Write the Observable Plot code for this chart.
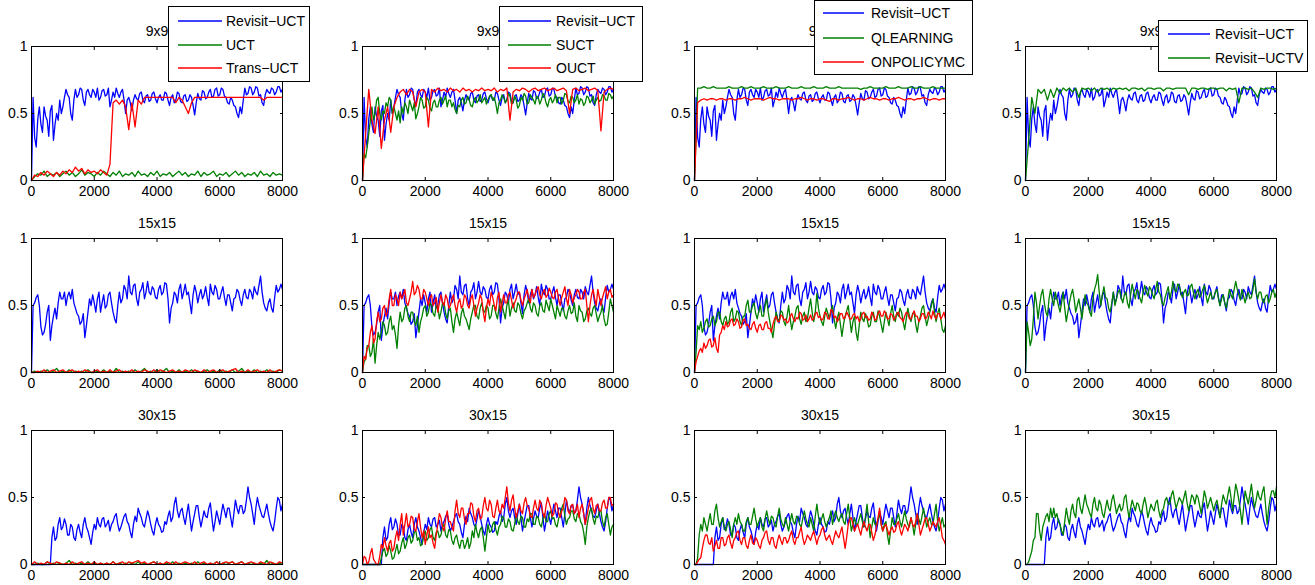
<!DOCTYPE html>
<html>
<head>
<meta charset="utf-8">
<script src="https://cdn.jsdelivr.net/npm/d3@7"></script>
<script src="https://cdn.jsdelivr.net/npm/@observablehq/plot@0.6"></script>
<style>
body{margin:0;background:#fff;}
#root{position:relative;width:1315px;height:585px;overflow:hidden;background:#fff;font-family:"Liberation Sans",Arial,sans-serif;}
#root > svg{position:absolute;}
</style>
</head>
<body>
<div id="root"></div>
<script>
// ---------- data: episodes 0..8000, evenly sampled (step = 8000/(n-1)) ----------
const xTicks = [0, 2000, 4000, 6000, 8000];
const yTicks = [0, 0.5, 1];
const rowTitles = ["9x9", "15x15", "30x15"];

// ===== 9x9 =====
const revisit9 = [
0,0.62,0.32,0.25,0.46,0.55,0.42,0.36,0.55,0.48,0.45,0.33,0.52,0.56,0.3,0.42,0.5,0.45,0.6,0.5,
0.55,0.62,0.68,0.64,0.62,0.5,0.45,0.6,0.68,0.62,0.64,0.69,0.68,0.6,0.56,0.66,0.68,0.64,0.62,0.68,
0.66,0.62,0.69,0.6,0.62,0.67,0.68,0.63,0.64,0.69,0.55,0.6,0.66,0.62,0.69,0.65,0.62,0.66,0.68,0.6,
0.5,0.6,0.62,0.58,0.52,0.6,0.64,0.61,0.6,0.65,0.66,0.6,0.58,0.63,0.64,0.59,0.6,0.65,0.66,0.61,
0.58,0.62,0.64,0.6,0.6,0.66,0.65,0.6,0.56,0.62,0.64,0.58,0.6,0.66,0.65,0.59,0.58,0.63,0.64,0.59,
0.6,0.64,0.62,0.56,0.49,0.58,0.65,0.61,0.6,0.67,0.66,0.61,0.62,0.66,0.68,0.62,0.63,0.68,0.69,0.63,
0.64,0.69,0.68,0.63,0.62,0.58,0.57,0.62,0.6,0.56,0.55,0.5,0.47,0.55,0.5,0.6,0.69,0.64,0.65,0.7,
0.69,0.64,0.66,0.7,0.69,0.63,0.64,0.58,0.56,0.64,0.68,0.66,0.65,0.69,0.68,0.64,0.66,0.7,0.7,0.66,
0.68];
const uct9 = [0,0.03,0.05,0.04,0.07,0.03,0.05,0.04,0.06,0.03,
0.05,0.07,0.04,0.06,0.03,0.05,0.08,0.04,0.06,0.05,
0.03,0.06,0.04,0.07,0.05,0.03,0.06,0.04,0.07,0.03,
0.05,0.04,0.06,0.03,0.07,0.04,0.05,0.03,0.06,0.04,
0.07,0.03,0.05,0.04,0.06,0.03,0.05,0.07,0.04,0.06,
0.03,0.05,0.04,0.07,0.03,0.06,0.04,0.05,0.07,0.03,
0.05,0.04,0.06,0.03,0.05,0.07,0.04,0.06,0.03,0.05,
0.04,0.06,0.03,0.07,0.04,0.05,0.03,0.06,0.04,0.05,
0.04];
const trans9 = [0,0.04,0.03,0.06,0.04,0.07,0.05,0.03,0.06,0.04,
0.07,0.05,0.08,0.06,0.1,0.07,0.09,0.05,0.08,0.06,
0.07,0.05,0.08,0.06,0.04,0.12,0.58,0.6,0.57,0.6,
0.55,0.38,0.58,0.4,0.6,0.57,0.62,0.62,0.62,0.62,
0.62,0.62,0.62,0.62,0.62,0.62,0.58,0.62,0.6,0.55,
0.5,0.58,0.62,0.62,0.62,0.62,0.62,0.62,0.62,0.62,
0.62,0.62,0.62,0.62,0.62,0.62,0.62,0.62,0.62,0.62,
0.62,0.62,0.62,0.62,0.6,0.62,0.62,0.62,0.62,0.62,
0.62];
const suct9 = [
0,0.2,0.17,0.25,0.35,0.45,0.55,0.45,0.5,0.6,0.62,0.5,0.45,0.52,0.5,0.58,0.55,0.62,0.6,0.5,
0.55,0.5,0.45,0.52,0.43,0.55,0.5,0.58,0.55,0.5,0.6,0.56,0.52,0.58,0.46,0.5,0.55,0.62,0.6,0.54,
0.55,0.62,0.6,0.54,0.52,0.58,0.6,0.55,0.55,0.6,0.62,0.57,0.6,0.63,0.55,0.6,0.6,0.55,0.58,0.53,
0.5,0.56,0.55,0.6,0.62,0.57,0.58,0.63,0.6,0.56,0.55,0.6,0.62,0.58,0.6,0.64,0.58,0.6,0.62,0.57,
0.6,0.63,0.64,0.6,0.62,0.57,0.5,0.58,0.6,0.64,0.62,0.58,0.6,0.65,0.63,0.57,0.58,0.63,0.6,0.54,
0.56,0.62,0.6,0.65,0.63,0.57,0.58,0.64,0.62,0.6,0.57,0.63,0.62,0.57,0.6,0.65,0.63,0.58,0.55,0.6,
0.62,0.58,0.6,0.64,0.58,0.62,0.62,0.57,0.6,0.65,0.64,0.59,0.58,0.63,0.62,0.58,0.6,0.64,0.57,0.61,
0.6,0.56,0.58,0.63,0.62,0.58,0.6,0.63,0.57,0.6,0.62,0.59,0.6,0.64,0.63,0.6,0.6,0.65,0.64,0.61,
0.63];
const ouct9 = [0,0.35,0.68,0.45,0.35,0.55,0.24,0.45,0.55,0.36,
0.55,0.62,0.66,0.68,0.64,0.68,0.66,0.55,0.66,0.68,
0.66,0.4,0.68,0.66,0.69,0.67,0.68,0.66,0.69,0.67,
0.68,0.66,0.69,0.67,0.68,0.66,0.68,0.67,0.69,0.67,
0.68,0.67,0.69,0.66,0.68,0.67,0.69,0.45,0.66,0.68,
0.67,0.69,0.68,0.66,0.68,0.69,0.67,0.68,0.69,0.67,
0.68,0.69,0.67,0.68,0.69,0.67,0.5,0.68,0.69,0.67,
0.68,0.69,0.67,0.68,0.69,0.67,0.37,0.66,0.68,0.69,
0.68];
const qlearn9 = [0,0.69,0.69,0.7,0.69,0.69,0.7,0.69,0.69,0.69,
0.69,0.7,0.69,0.69,0.69,0.7,0.69,0.69,0.7,0.69,
0.69,0.69,0.7,0.69,0.69,0.69,0.7,0.69,0.69,0.69,
0.7,0.69,0.69,0.69,0.7,0.69,0.69,0.69,0.7,0.69,
0.69,0.69,0.7,0.69,0.69,0.69,0.7,0.69,0.69,0.69,
0.69,0.69,0.69,0.68,0.69,0.69,0.7,0.69,0.69,0.69,
0.69,0.7,0.69,0.69,0.69,0.7,0.69,0.69,0.69,0.7,
0.69,0.69,0.7,0.69,0.69,0.69,0.7,0.69,0.69,0.69,
0.69];
const onpolicy9 = [0,0.58,0.6,0.61,0.6,0.61,0.61,0.6,0.61,0.61,
0.6,0.61,0.61,0.6,0.61,0.61,0.62,0.61,0.6,0.61,
0.61,0.61,0.6,0.61,0.62,0.61,0.61,0.6,0.61,0.61,
0.61,0.6,0.61,0.61,0.62,0.61,0.6,0.61,0.61,0.6,
0.61,0.61,0.6,0.59,0.61,0.61,0.6,0.61,0.61,0.62,
0.61,0.6,0.61,0.61,0.6,0.61,0.62,0.61,0.61,0.6,
0.61,0.61,0.6,0.61,0.61,0.62,0.61,0.6,0.61,0.61,
0.6,0.61,0.61,0.62,0.61,0.6,0.61,0.61,0.6,0.61,
0.61];
const uctv9 = [0,0.3,0.62,0.5,0.68,0.65,0.68,0.6,0.68,0.62,
0.69,0.65,0.69,0.67,0.69,0.66,0.69,0.62,0.69,0.68,
0.69,0.67,0.69,0.66,0.69,0.68,0.69,0.67,0.69,0.68,
0.69,0.68,0.69,0.67,0.69,0.69,0.68,0.69,0.67,0.69,
0.69,0.68,0.69,0.69,0.67,0.69,0.69,0.68,0.69,0.69,
0.69,0.69,0.64,0.69,0.69,0.68,0.69,0.69,0.68,0.69,
0.69,0.68,0.69,0.69,0.67,0.69,0.68,0.69,0.58,0.69,
0.69,0.68,0.69,0.66,0.62,0.69,0.68,0.69,0.69,0.68,
0.69];

// ===== 15x15 =====
const revisit15 = [
0,0.5,0.52,0.56,0.58,0.5,0.34,0.28,0.3,0.36,0.45,0.5,0.24,0.35,0.42,0.48,0.4,0.52,0.6,0.55,
0.55,0.6,0.5,0.57,0.6,0.55,0.62,0.52,0.48,0.44,0.42,0.36,0.38,0.44,0.26,0.35,0.45,0.55,0.5,0.58,
0.52,0.45,0.55,0.6,0.45,0.52,0.58,0.48,0.5,0.58,0.6,0.52,0.45,0.4,0.37,0.5,0.6,0.52,0.55,0.65,
0.62,0.55,0.72,0.6,0.58,0.65,0.66,0.55,0.5,0.6,0.62,0.67,0.55,0.6,0.68,0.6,0.58,0.64,0.62,0.56,
0.55,0.62,0.65,0.58,0.6,0.67,0.66,0.55,0.37,0.48,0.52,0.6,0.58,0.52,0.62,0.66,0.55,0.6,0.66,0.58,
0.6,0.52,0.44,0.58,0.65,0.6,0.52,0.58,0.62,0.55,0.58,0.64,0.56,0.5,0.66,0.6,0.58,0.65,0.62,0.55,
0.55,0.6,0.64,0.56,0.5,0.58,0.58,0.52,0.46,0.55,0.56,0.62,0.6,0.54,0.5,0.58,0.62,0.56,0.55,0.62,
0.6,0.55,0.64,0.6,0.58,0.65,0.72,0.6,0.52,0.48,0.46,0.52,0.55,0.48,0.45,0.56,0.65,0.6,0.62,0.66,
0.62];
const uct15 = [0,0.01,0,0.01,0,0.02,0,0.01,0.03,0,
0.01,0,0.02,0,0.01,0,0.01,0,0.02,0,
0,0.01,0,0.02,0,0.01,0,0.03,0,0.01,
0,0.01,0,0.02,0,0.01,0.03,0,0.01,0,
0.02,0,0.01,0.03,0,0.01,0,0.02,0,0.01,
0,0.02,0,0.01,0,0.01,0.02,0,0.01,0,
0.02,0,0.01,0,0.02,0,0.01,0.03,0,0.01,
0,0.02,0,0.01,0,0.02,0,0.01,0,0.02,
0.01];
const trans15 = [0,0,0.01,0,0.02,0,0.01,0.02,0,0.01,
0.02,0,0.01,0.02,0,0.01,0,0.02,0.01,0,
0.01,0.02,0,0.01,0,0.02,0,0.01,0.02,0,
0.01,0,0.02,0,0.01,0,0.02,0.01,0,0.02,
0,0.02,0.01,0,0.01,0.02,0,0.01,0,0.02,
0.01,0,0.02,0.01,0,0.02,0,0.01,0.02,0,
0.01,0.02,0,0.01,0.02,0.03,0,0.01,0,0.02,
0,0.01,0.02,0,0.01,0,0.02,0,0.01,0.02,
0.01];
const suct15 = [
0,0.08,0.1,0.2,0.2,0.12,0.15,0.25,0.07,0.2,0.3,0.25,0.3,0.38,0.35,0.28,0.3,0.38,0.42,0.32,
0.35,0.28,0.18,0.35,0.45,0.38,0.4,0.48,0.5,0.42,0.38,0.45,0.45,0.38,0.35,0.42,0.3,0.38,0.42,0.48,
0.5,0.42,0.45,0.52,0.5,0.44,0.42,0.5,0.5,0.4,0.45,0.52,0.52,0.44,0.4,0.46,0.48,0.38,0.3,0.4,
0.45,0.4,0.35,0.44,0.48,0.42,0.4,0.36,0.32,0.4,0.45,0.5,0.5,0.42,0.4,0.48,0.52,0.46,0.45,0.5,
0.48,0.4,0.42,0.5,0.5,0.44,0.4,0.48,0.55,0.5,0.45,0.4,0.5,0.54,0.42,0.48,0.52,0.46,0.45,0.52,
0.5,0.44,0.4,0.46,0.48,0.52,0.55,0.48,0.45,0.52,0.5,0.44,0.42,0.5,0.52,0.46,0.45,0.54,0.5,0.46,
0.55,0.5,0.45,0.4,0.5,0.46,0.42,0.48,0.48,0.42,0.4,0.46,0.5,0.44,0.45,0.52,0.42,0.38,0.5,0.46,
0.45,0.38,0.4,0.46,0.48,0.44,0.42,0.48,0.5,0.44,0.38,0.42,0.45,0.5,0.4,0.35,0.36,0.45,0.55,0.5,
0.45];
const ouct15 = [
0,0.12,0.1,0.18,0.2,0.3,0.35,0.22,0.25,0.38,0.45,0.38,0.4,0.48,0.5,0.42,0.45,0.55,0.62,0.5,
0.5,0.58,0.55,0.5,0.6,0.55,0.58,0.62,0.52,0.5,0.55,0.6,0.68,0.58,0.6,0.65,0.62,0.55,0.55,0.62,
0.6,0.55,0.5,0.56,0.58,0.5,0.52,0.56,0.45,0.52,0.58,0.52,0.5,0.58,0.55,0.48,0.5,0.55,0.58,0.5,
0.45,0.52,0.55,0.48,0.5,0.58,0.56,0.5,0.48,0.55,0.58,0.5,0.42,0.48,0.52,0.58,0.55,0.45,0.38,0.48,
0.55,0.5,0.6,0.56,0.5,0.46,0.56,0.6,0.45,0.52,0.58,0.52,0.52,0.58,0.6,0.54,0.48,0.52,0.55,0.6,
0.6,0.54,0.5,0.55,0.58,0.62,0.55,0.52,0.62,0.56,0.58,0.62,0.64,0.58,0.55,0.6,0.62,0.56,0.58,0.63,
0.6,0.56,0.55,0.6,0.62,0.55,0.5,0.56,0.6,0.64,0.55,0.5,0.62,0.58,0.52,0.56,0.58,0.62,0.6,0.55,
0.55,0.6,0.62,0.5,0.38,0.5,0.58,0.62,0.55,0.5,0.62,0.56,0.5,0.56,0.6,0.64,0.55,0.6,0.62,0.56,
0.58];
const qlearn15 = [
0,0.15,0.35,0.32,0.38,0.3,0.33,0.38,0.4,0.34,0.35,0.4,0.42,0.35,0.38,0.45,0.45,0.38,0.35,0.4,
0.42,0.36,0.38,0.45,0.48,0.38,0.4,0.46,0.45,0.38,0.35,0.42,0.42,0.5,0.54,0.45,0.45,0.5,0.52,0.44,
0.4,0.46,0.5,0.42,0.42,0.5,0.55,0.45,0.38,0.32,0.26,0.36,0.45,0.4,0.38,0.46,0.45,0.38,0.35,0.42,
0.5,0.4,0.32,0.38,0.42,0.48,0.5,0.4,0.36,0.42,0.45,0.38,0.4,0.48,0.55,0.45,0.38,0.45,0.59,0.48,
0.42,0.38,0.35,0.42,0.48,0.44,0.4,0.46,0.5,0.4,0.33,0.4,0.45,0.36,0.27,0.36,0.42,0.46,0.5,0.4,
0.3,0.38,0.42,0.3,0.24,0.35,0.45,0.4,0.38,0.44,0.4,0.34,0.35,0.42,0.45,0.38,0.38,0.46,0.42,0.36,
0.3,0.38,0.45,0.4,0.35,0.44,0.5,0.42,0.38,0.45,0.42,0.48,0.45,0.38,0.32,0.4,0.48,0.42,0.38,0.44,
0.45,0.36,0.3,0.38,0.42,0.48,0.5,0.42,0.35,0.4,0.45,0.5,0.55,0.45,0.38,0.44,0.48,0.4,0.32,0.3,
0.35];
const onpolicy15 = [
0,0.08,0.12,0.16,0.18,0.15,0.22,0.18,0.2,0.24,0.25,0.19,0.2,0.26,0.18,0.15,0.28,0.3,0.35,0.32,
0.38,0.34,0.35,0.39,0.4,0.35,0.36,0.4,0.38,0.33,0.34,0.39,0.4,0.35,0.36,0.33,0.32,0.36,0.38,0.33,
0.3,0.35,0.36,0.32,0.32,0.37,0.38,0.33,0.33,0.3,0.36,0.4,0.42,0.38,0.38,0.43,0.42,0.39,0.4,0.37,
0.38,0.42,0.44,0.4,0.38,0.41,0.4,0.45,0.44,0.39,0.4,0.43,0.38,0.4,0.43,0.39,0.4,0.44,0.45,0.41,
0.42,0.39,0.4,0.45,0.44,0.4,0.4,0.47,0.46,0.41,0.42,0.38,0.4,0.44,0.44,0.4,0.41,0.45,0.43,0.4,
0.4,0.43,0.44,0.4,0.42,0.38,0.4,0.44,0.45,0.41,0.42,0.39,0.4,0.45,0.43,0.39,0.4,0.44,0.46,0.42,
0.42,0.46,0.44,0.4,0.4,0.44,0.43,0.39,0.41,0.44,0.45,0.41,0.4,0.38,0.42,0.45,0.44,0.4,0.4,0.43,
0.46,0.42,0.42,0.38,0.4,0.44,0.44,0.4,0.41,0.45,0.43,0.4,0.46,0.42,0.4,0.44,0.44,0.4,0.42,0.45,
0.4];
const uctv15 = [
0,0.38,0.3,0.2,0.25,0.4,0.6,0.52,0.4,0.5,0.58,0.62,0.52,0.45,0.42,0.55,0.62,0.55,0.5,0.6,
0.55,0.5,0.45,0.52,0.6,0.48,0.38,0.45,0.52,0.58,0.62,0.55,0.45,0.5,0.55,0.48,0.4,0.5,0.58,0.52,
0.5,0.45,0.42,0.55,0.62,0.66,0.73,0.6,0.5,0.58,0.64,0.56,0.55,0.48,0.45,0.52,0.6,0.5,0.55,0.6,
0.62,0.56,0.52,0.58,0.6,0.52,0.48,0.58,0.66,0.6,0.55,0.62,0.6,0.55,0.52,0.6,0.65,0.6,0.57,0.64,
0.62,0.58,0.55,0.62,0.68,0.6,0.58,0.52,0.5,0.56,0.6,0.64,0.55,0.6,0.68,0.62,0.6,0.66,0.65,0.6,
0.56,0.6,0.62,0.57,0.58,0.64,0.66,0.6,0.55,0.6,0.62,0.56,0.58,0.62,0.65,0.58,0.52,0.56,0.6,0.55,
0.56,0.6,0.62,0.55,0.5,0.55,0.58,0.52,0.48,0.55,0.62,0.58,0.55,0.62,0.68,0.62,0.58,0.54,0.62,0.57,
0.52,0.57,0.6,0.55,0.56,0.62,0.7,0.6,0.55,0.6,0.6,0.54,0.52,0.57,0.58,0.52,0.55,0.6,0.62,0.56,
0.6];

// ===== 30x15 =====
const revisit30 = [
0,0,0,0,0,0,0,0,0,0,0,0,0,0.2,0.28,0.18,0.2,0.3,0.35,0.26,
0.28,0.34,0.3,0.22,0.22,0.3,0.28,0.2,0.18,0.26,0.3,0.24,0.2,0.3,0.35,0.28,0.25,0.2,0.15,0.24,
0.3,0.26,0.35,0.3,0.28,0.34,0.35,0.28,0.3,0.33,0.25,0.3,0.32,0.36,0.38,0.3,0.25,0.28,0.32,0.36,
0.38,0.32,0.3,0.24,0.2,0.3,0.36,0.32,0.42,0.38,0.35,0.3,0.28,0.34,0.4,0.36,0.3,0.25,0.22,0.3,
0.35,0.3,0.28,0.24,0.25,0.32,0.3,0.36,0.4,0.32,0.35,0.45,0.5,0.4,0.35,0.4,0.42,0.35,0.3,0.38,
0.45,0.35,0.25,0.32,0.38,0.44,0.44,0.35,0.28,0.34,0.4,0.36,0.35,0.42,0.46,0.35,0.25,0.32,0.4,0.35,
0.3,0.38,0.45,0.4,0.35,0.42,0.42,0.35,0.28,0.38,0.48,0.42,0.38,0.44,0.44,0.38,0.4,0.48,0.58,0.5,
0.45,0.38,0.3,0.42,0.5,0.44,0.4,0.36,0.35,0.4,0.45,0.38,0.32,0.28,0.25,0.32,0.42,0.5,0.48,0.4,
0.45];
const uct30 = [0,0,0.01,0,0,0.02,0,0.01,0,0.01,
0,0.01,0.03,0,0.01,0,0.01,0,0.02,0,
0.01,0,0.01,0,0.01,0,0.02,0,0.01,0,
0.01,0,0.01,0,0.02,0,0.01,0,0.01,0.02,
0,0.01,0,0.01,0,0.02,0,0.01,0,0.01,
0,0.01,0,0.02,0,0.01,0,0.01,0,0.02,
0,0.01,0,0.01,0.02,0,0.01,0.02,0,0.01,
0,0.01,0,0.01,0,0.03,0,0.01,0,0.01,
0];
const trans30 = [0,0.02,0,0.01,0,0.02,0.01,0,0.02,0.01,
0,0.01,0,0.02,0,0.01,0.02,0,0.01,0,
0.02,0,0.01,0,0.01,0,0.02,0,0.01,0.02,
0,0.02,0.01,0.02,0.03,0.01,0.02,0,0.01,0.02,
0,0.01,0,0.02,0.01,0,0.02,0,0.01,0.02,
0.01,0,0.02,0,0.01,0.02,0,0.01,0,0.02,
0,0.01,0.02,0.01,0.02,0,0.01,0.02,0,0.01,
0.02,0.01,0,0.02,0.01,0,0.02,0.01,0,0.02,
0.01];
const suct30 = [
0,0,0,0,0,0,0,0,0,0,0,0,0.05,0.1,0.12,0.06,0.08,0.14,0.1,0.04,
0.05,0.1,0.15,0.08,0.1,0.16,0.2,0.12,0.15,0.2,0.22,0.16,0.18,0.24,0.25,0.18,0.2,0.14,0.15,0.22,
0.25,0.18,0.2,0.26,0.28,0.2,0.18,0.24,0.25,0.2,0.22,0.28,0.3,0.22,0.2,0.26,0.25,0.18,0.15,0.2,
0.22,0.16,0.12,0.18,0.18,0.12,0.15,0.2,0.12,0.16,0.25,0.2,0.3,0.24,0.2,0.26,0.28,0.2,0.1,0.2,
0.3,0.24,0.25,0.3,0.32,0.26,0.22,0.28,0.3,0.36,0.35,0.28,0.28,0.34,0.32,0.26,0.25,0.3,0.38,0.32,
0.3,0.36,0.35,0.28,0.28,0.34,0.32,0.38,0.38,0.3,0.3,0.36,0.35,0.3,0.28,0.34,0.38,0.32,0.32,0.38,
0.4,0.34,0.35,0.3,0.28,0.34,0.38,0.42,0.45,0.36,0.3,0.34,0.35,0.4,0.4,0.34,0.32,0.38,0.38,0.32,
0.3,0.24,0.15,0.28,0.35,0.4,0.42,0.34,0.3,0.36,0.35,0.4,0.4,0.32,0.28,0.35,0.38,0.3,0.22,0.28,
0.3];
const ouct30 = [
0,0.06,0.05,0,0.02,0.08,0.12,0.04,0.02,0,0,0.06,0.15,0.12,0.2,0.14,0.1,0.16,0.18,0.1,
0.12,0.2,0.25,0.18,0.3,0.38,0.22,0.3,0.38,0.28,0.3,0.36,0.35,0.26,0.25,0.32,0.38,0.28,0.2,0.25,
0.15,0.22,0.28,0.2,0.22,0.16,0.12,0.22,0.3,0.38,0.35,0.28,0.25,0.34,0.4,0.32,0.32,0.28,0.25,0.4,
0.48,0.38,0.35,0.42,0.42,0.34,0.3,0.38,0.38,0.46,0.45,0.36,0.32,0.4,0.42,0.34,0.35,0.44,0.5,0.42,
0.4,0.48,0.45,0.36,0.35,0.42,0.48,0.4,0.38,0.45,0.42,0.5,0.58,0.46,0.4,0.48,0.52,0.42,0.35,0.4,
0.45,0.4,0.38,0.46,0.5,0.44,0.42,0.36,0.35,0.42,0.48,0.42,0.4,0.48,0.45,0.38,0.35,0.44,0.5,0.46,
0.42,0.36,0.38,0.46,0.45,0.38,0.35,0.4,0.42,0.5,0.48,0.4,0.38,0.44,0.45,0.38,0.4,0.45,0.35,0.42,
0.45,0.38,0.3,0.36,0.42,0.48,0.5,0.42,0.38,0.44,0.45,0.4,0.4,0.46,0.48,0.42,0.42,0.5,0.5,0.44,
0.45];
const qlearn30 = [
0,0,0.05,0.22,0.3,0.25,0.35,0.3,0.25,0.32,0.38,0.3,0.3,0.4,0.45,0.35,0.28,0.32,0.35,0.28,
0.25,0.3,0.32,0.26,0.2,0.3,0.35,0.3,0.38,0.32,0.3,0.25,0.25,0.32,0.35,0.3,0.3,0.36,0.42,0.34,
0.28,0.32,0.35,0.28,0.25,0.34,0.4,0.34,0.3,0.36,0.35,0.3,0.28,0.36,0.42,0.34,0.3,0.28,0.35,0.3,
0.25,0.32,0.38,0.32,0.3,0.36,0.35,0.3,0.28,0.34,0.4,0.34,0.3,0.28,0.35,0.3,0.25,0.36,0.45,0.36,
0.3,0.34,0.38,0.32,0.28,0.32,0.35,0.4,0.3,0.36,0.4,0.35,0.32,0.36,0.38,0.32,0.3,0.38,0.45,0.35,
0.25,0.3,0.35,0.3,0.3,0.34,0.38,0.32,0.28,0.36,0.45,0.32,0.2,0.28,0.35,0.3,0.3,0.34,0.38,0.3,
0.25,0.3,0.32,0.22,0.15,0.25,0.35,0.3,0.3,0.34,0.38,0.32,0.28,0.34,0.4,0.34,0.3,0.28,0.35,0.3,
0.22,0.3,0.38,0.34,0.3,0.36,0.42,0.35,0.28,0.32,0.35,0.3,0.3,0.38,0.45,0.32,0.25,0.3,0.35,0.28,
0.3];
const onpolicy30 = [
0,0,0.02,0.04,0.05,0.12,0.18,0.22,0.22,0.16,0.15,0.2,0.1,0.14,0.18,0.12,0.12,0.2,0.2,0.14,
0.15,0.2,0.22,0.16,0.12,0.18,0.2,0.24,0.25,0.18,0.15,0.2,0.2,0.14,0.12,0.18,0.22,0.16,0.15,0.2,
0.18,0.14,0.12,0.18,0.2,0.24,0.25,0.18,0.15,0.2,0.2,0.14,0.12,0.18,0.22,0.18,0.15,0.2,0.2,0.16,
0.18,0.22,0.25,0.18,0.15,0.2,0.2,0.24,0.28,0.2,0.15,0.18,0.22,0.2,0.18,0.22,0.25,0.2,0.15,0.2,
0.22,0.26,0.28,0.22,0.18,0.2,0.22,0.18,0.15,0.2,0.25,0.22,0.2,0.24,0.28,0.2,0.12,0.2,0.3,0.34,
0.35,0.3,0.25,0.28,0.3,0.26,0.22,0.28,0.32,0.28,0.25,0.3,0.3,0.24,0.18,0.22,0.28,0.35,0.42,0.3,
0.25,0.28,0.3,0.26,0.22,0.26,0.28,0.24,0.25,0.3,0.32,0.26,0.22,0.26,0.3,0.28,0.25,0.3,0.35,0.3,
0.28,0.32,0.38,0.3,0.22,0.26,0.3,0.34,0.35,0.3,0.25,0.28,0.32,0.3,0.28,0.32,0.35,0.28,0.2,0.18,
0.15];
const uctv30 = [
0,0,0.02,0.06,0.1,0.18,0.2,0.38,0.38,0.25,0.18,0.28,0.32,0.36,0.38,0.32,0.42,0.35,0.42,0.35,
0.38,0.32,0.3,0.25,0.22,0.32,0.42,0.35,0.3,0.4,0.45,0.38,0.35,0.48,0.5,0.42,0.38,0.45,0.52,0.45,
0.42,0.38,0.35,0.45,0.5,0.42,0.4,0.48,0.45,0.38,0.35,0.42,0.48,0.42,0.4,0.48,0.52,0.45,0.38,0.42,
0.45,0.4,0.42,0.5,0.52,0.42,0.35,0.42,0.48,0.44,0.4,0.46,0.45,0.4,0.38,0.45,0.5,0.44,0.35,0.4,
0.45,0.42,0.4,0.46,0.48,0.4,0.35,0.4,0.42,0.48,0.5,0.45,0.45,0.52,0.55,0.48,0.42,0.46,0.5,0.48,
0.45,0.5,0.55,0.46,0.4,0.46,0.52,0.5,0.45,0.52,0.5,0.44,0.38,0.46,0.55,0.5,0.42,0.46,0.5,0.45,
0.4,0.45,0.48,0.42,0.35,0.45,0.52,0.48,0.45,0.52,0.58,0.5,0.4,0.5,0.6,0.55,0.48,0.4,0.3,0.42,
0.55,0.5,0.45,0.52,0.6,0.5,0.42,0.48,0.55,0.5,0.48,0.54,0.58,0.45,0.3,0.42,0.5,0.55,0.55,0.5,
0.58];

// ---------- layout ----------
const BLUE = "#0000ff", GREEN = "#008000", RED = "#ff0000";
const FONT = "'Liberation Sans', Arial, Helvetica, sans-serif";
const colLeft = [31, 362, 694, 1025];
const rowTop = [46, 238, 430];
const FW = 251, FH = 134, ML = 31, MT = 46, MR = 30, MB = 24;

const rowsData = [
  {revisit: revisit9, extra: [[uct9, trans9], [suct9, ouct9], [qlearn9, onpolicy9], [uctv9]]},
  {revisit: revisit15, extra: [[uct15, trans15], [suct15, ouct15], [qlearn15, onpolicy15], [uctv15]]},
  {revisit: revisit30, extra: [[uct30, trans30], [suct30, ouct30], [qlearn30, onpolicy30], [uctv30]]}
];
const extraColors = [[GREEN, RED], [GREEN, RED], [GREEN, RED], [GREEN]];

const root = document.getElementById("root");

function toRows(values) {
  const step = 8000 / (values.length - 1);
  return values.map((v, i) => ({x: i * step, y: v}));
}

rowsData.forEach((row, r) => {
  for (let c = 0; c < 4; c++) {
    const series = [{values: row.revisit, color: BLUE}]
      .concat(row.extra[c].map((v, k) => ({values: v, color: extraColors[c][k]})));
    const chart = Plot.plot({
      width: ML + FW + MR, height: MT + FH + MB,
      marginLeft: ML, marginRight: MR, marginTop: MT, marginBottom: MB,
      style: {fontFamily: FONT, fontSize: "14px", background: "transparent", overflow: "visible", color: "black"},
      x: {domain: [0, 8000]},
      y: {domain: [0, 1]},
      marks: [
        ...series.map(s => Plot.line(toRows(s.values), {x: "x", y: "y", stroke: s.color, strokeWidth: 1.3})),
        Plot.frame({stroke: "black", strokeWidth: 1}),
        Plot.axisX(xTicks, {anchor: "bottom", tickSize: -3, tickPadding: 9, tickFormat: d => String(d), label: null, fontSize: 14}),
        Plot.axisX(xTicks, {anchor: "top", tickSize: -3, tickFormat: () => "", label: null}),
        Plot.axisY(yTicks, {anchor: "left", tickSize: -3, tickPadding: 7, tickFormat: d => String(d), label: null, fontSize: 14}),
        Plot.axisY(yTicks, {anchor: "right", tickSize: -3, tickFormat: () => "", label: null}),
        Plot.text([rowTitles[r]], {frameAnchor: "top", text: d => d, dy: -11, lineAnchor: "bottom", fontSize: 14, fill: "black"})
      ]
    });
    chart.style.left = (colLeft[c] - ML) + "px";
    chart.style.top = (rowTop[r] - MT) + "px";
    root.appendChild(chart);
  }
});

// ---------- legends (one overlay on top of all panels) ----------
const legends = [
  {x: 168, y: 6, w: 142, h: 76, x1: 10, x2: 54, tx: 58, rows: [15, 39, 62],
   items: [["Revisit\u2212UCT", BLUE], ["UCT", GREEN], ["Trans\u2212UCT", RED]]},
  {x: 499, y: 6, w: 144, h: 76, x1: 9, x2: 52, tx: 57, rows: [15, 39, 62],
   items: [["Revisit\u2212UCT", BLUE], ["SUCT", GREEN], ["OUCT", RED]]},
  {x: 814, y: 0, w: 159, h: 75, x1: 9, x2: 50, tx: 57, rows: [13, 38, 62],
   items: [["Revisit\u2212UCT", BLUE], ["QLEARNING", GREEN], ["ONPOLICYMC", RED]]},
  {x: 1158, y: 20, w: 150, h: 52, x1: 10, x2: 52, tx: 57, rows: [14, 38],
   items: [["Revisit\u2212UCT", BLUE], ["Revisit\u2212UCTV", GREEN]]}
];
const overlay = d3.create("svg").attr("width", 1315).attr("height", 585)
  .style("left", "0px").style("top", "0px").style("pointer-events", "none");
legends.forEach(L => {
  const g = overlay.append("g").attr("transform", `translate(${L.x},${L.y})`);
  g.append("rect").attr("x", 0.5).attr("y", 0.5).attr("width", L.w - 1).attr("height", L.h - 1)
    .style("fill", "#ffffff").style("stroke", "#000000").style("stroke-width", "1px");
  L.items.forEach(([name, color], i) => {
    const y = L.rows[i];
    g.append("line").attr("x1", L.x1).attr("x2", L.x2).attr("y1", y).attr("y2", y)
      .style("stroke", color).style("stroke-width", "1.6px");
    g.append("text").attr("x", L.tx).attr("y", y).attr("dy", "0.35em")
      .style("font-family", FONT).style("font-size", "14px").style("fill", "#000000").text(name);
  });
});
root.appendChild(overlay.node());
</script>
</body>
</html>
